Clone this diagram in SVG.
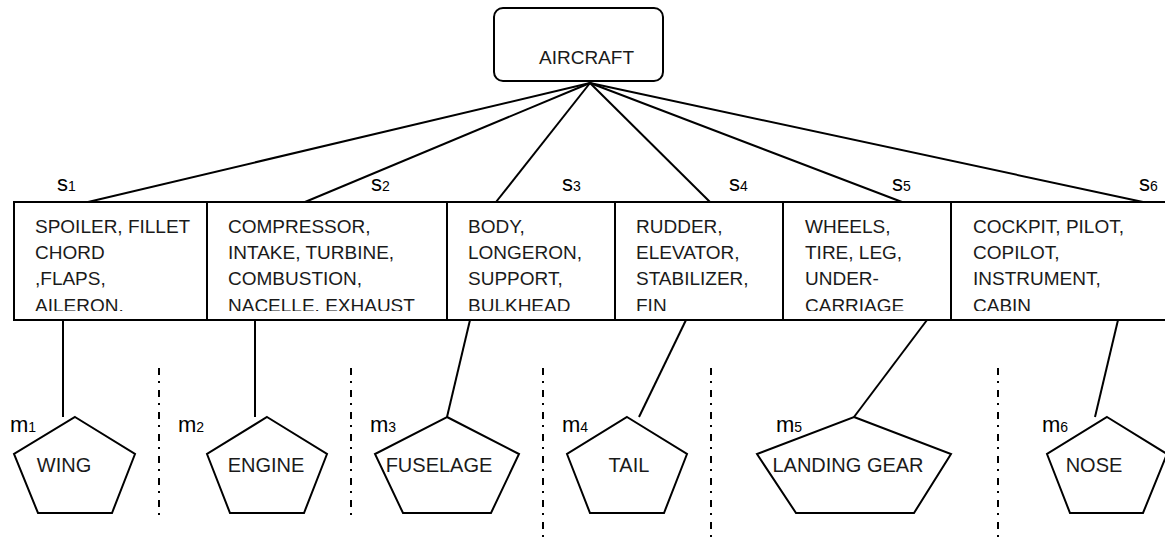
<svg xmlns="http://www.w3.org/2000/svg" width="1165" height="538" viewBox="0 0 1165 538">
  <style>
    .edge { stroke: #000; stroke-width: 2; fill: none; }
    .box { stroke: #000; stroke-width: 2; fill: #fff; }
    .sep { stroke: #000; stroke-width: 2; stroke-dasharray: 7 6 2 7; fill: none; }
    .t { font-family: "Liberation Sans", Arial, sans-serif; font-size: 19px; fill: #1a1a1a; }
    .lbl { font-family: "Liberation Sans", Arial, sans-serif; font-size: 22px; fill: #000; }
    .sub { font-size: 14px; }
    .pt { font-family: "Liberation Sans", Arial, sans-serif; font-size: 20px; fill: #1a1a1a; text-anchor: middle; }
  </style>
  <defs>
    <clipPath id="cellClip">
      <rect x="0" y="203" width="1165" height="108"/>
    </clipPath>
  </defs>

  <!-- connectors -->
  <g id="connectors">
    <line class="edge" x1="590" y1="83" x2="88" y2="202"/>
    <line class="edge" x1="590" y1="83" x2="305" y2="202"/>
    <line class="edge" x1="590" y1="83" x2="496" y2="202"/>
    <line class="edge" x1="590" y1="83" x2="710" y2="202"/>
    <line class="edge" x1="590" y1="83" x2="902" y2="202"/>
    <line class="edge" x1="590" y1="83" x2="1143" y2="202"/>
    <line class="edge" x1="63" y1="320" x2="63" y2="417"/>
    <line class="edge" x1="255" y1="320" x2="255" y2="417"/>
    <line class="edge" x1="470" y1="320" x2="447" y2="417"/>
    <line class="edge" x1="686" y1="320" x2="639" y2="417"/>
    <line class="edge" x1="927" y1="320" x2="854" y2="417"/>
    <line class="edge" x1="1118" y1="320" x2="1095" y2="417"/>
  </g>

  <!-- root -->
  <g id="aircraft">
    <rect class="box" x="494" y="8" width="169" height="73" rx="9" ry="9"/>
    <text class="t" x="539" y="64">AIRCRAFT</text>
  </g>

  <!-- separators between modules -->
  <g id="separators">
    <line class="sep" x1="159" y1="368" x2="159" y2="516"/>
    <line class="sep" x1="351" y1="368" x2="351" y2="516"/>
    <line class="sep" x1="543" y1="368" x2="543" y2="538"/>
    <line class="sep" x1="711" y1="368" x2="711" y2="538"/>
    <line class="sep" x1="998" y1="368" x2="998" y2="538"/>
  </g>

  <!-- component table -->
  <g id="table">
    <rect class="edge" x="14" y="202" width="1160" height="118"/>
    <line class="edge" x1="207" y1="202" x2="207" y2="320"/>
    <line class="edge" x1="447" y1="202" x2="447" y2="320"/>
    <line class="edge" x1="615" y1="202" x2="615" y2="320"/>
    <line class="edge" x1="783" y1="202" x2="783" y2="320"/>
    <line class="edge" x1="951" y1="202" x2="951" y2="320"/>
  </g>

  <g id="cell-s1" clip-path="url(#cellClip)">
    <text class="t" x="35" y="233">SPOILER, FILLET</text>
    <text class="t" x="35" y="259">CHORD</text>
    <text class="t" x="35" y="285">,FLAPS,</text>
    <text class="t" x="35" y="312">AILERON.</text>
  </g>
  <g id="cell-s2" clip-path="url(#cellClip)">
    <text class="t" x="228" y="233">COMPRESSOR,</text>
    <text class="t" x="228" y="259">INTAKE, TURBINE,</text>
    <text class="t" x="228" y="285">COMBUSTION,</text>
    <text class="t" x="228" y="312">NACELLE. EXHAUST</text>
  </g>
  <g id="cell-s3" clip-path="url(#cellClip)">
    <text class="t" x="468" y="233">BODY,</text>
    <text class="t" x="468" y="259">LONGERON,</text>
    <text class="t" x="468" y="285">SUPPORT,</text>
    <text class="t" x="468" y="312">BULKHEAD</text>
  </g>
  <g id="cell-s4" clip-path="url(#cellClip)">
    <text class="t" x="636" y="233">RUDDER,</text>
    <text class="t" x="636" y="259">ELEVATOR,</text>
    <text class="t" x="636" y="285">STABILIZER,</text>
    <text class="t" x="636" y="312">FIN</text>
  </g>
  <g id="cell-s5" clip-path="url(#cellClip)">
    <text class="t" x="805" y="233">WHEELS,</text>
    <text class="t" x="805" y="259">TIRE, LEG,</text>
    <text class="t" x="805" y="285">UNDER-</text>
    <text class="t" x="805" y="312">CARRIAGE</text>
  </g>
  <g id="cell-s6" clip-path="url(#cellClip)">
    <text class="t" x="973" y="233">COCKPIT, PILOT,</text>
    <text class="t" x="973" y="259">COPILOT,</text>
    <text class="t" x="973" y="285">INSTRUMENT,</text>
    <text class="t" x="973" y="312">CABIN</text>
  </g>

  <!-- set labels -->
  <g id="set-labels">
    <text class="lbl" x="57" y="191">s<tspan class="sub">1</tspan></text>
    <text class="lbl" x="371" y="191">s<tspan class="sub">2</tspan></text>
    <text class="lbl" x="562" y="191">s<tspan class="sub">3</tspan></text>
    <text class="lbl" x="729" y="191">s<tspan class="sub">4</tspan></text>
    <text class="lbl" x="892" y="191">s<tspan class="sub">5</tspan></text>
    <text class="lbl" x="1139" y="191">s<tspan class="sub">6</tspan></text>
  </g>

  <!-- module labels -->
  <g id="module-labels">
    <text class="lbl" x="10" y="432">m<tspan class="sub">1</tspan></text>
    <text class="lbl" x="178" y="432">m<tspan class="sub">2</tspan></text>
    <text class="lbl" x="370" y="432">m<tspan class="sub">3</tspan></text>
    <text class="lbl" x="562" y="432">m<tspan class="sub">4</tspan></text>
    <text class="lbl" x="776" y="432">m<tspan class="sub">5</tspan></text>
    <text class="lbl" x="1042" y="432">m<tspan class="sub">6</tspan></text>
  </g>

  <!-- modules -->
  <g id="wing">
    <polygon class="box" points="75,417 135,454 112,513 38,513 14,454"/>
    <text class="pt" x="64" y="472">WING</text>
  </g>
  <g id="engine">
    <polygon class="box" points="267,417 327,454 304,513 230,513 207,454"/>
    <text class="pt" x="266" y="472">ENGINE</text>
  </g>
  <g id="fuselage">
    <polygon class="box" points="447,417 519,454 491,513 403,513 375,454"/>
    <text class="pt" x="439" y="472">FUSELAGE</text>
  </g>
  <g id="tail">
    <polygon class="box" points="627,417 687,454 664,513 590,513 567,454"/>
    <text class="pt" x="629" y="472">TAIL</text>
  </g>
  <g id="landing-gear">
    <polygon class="box" points="854,417 951,454 914,513 796,513 757,454"/>
    <text class="pt" x="848" y="472">LANDING GEAR</text>
  </g>
  <g id="nose">
    <polygon class="box" points="1107,417 1167,454 1143,513 1070,513 1047,454"/>
    <text class="pt" x="1094" y="472">NOSE</text>
  </g>
</svg>
